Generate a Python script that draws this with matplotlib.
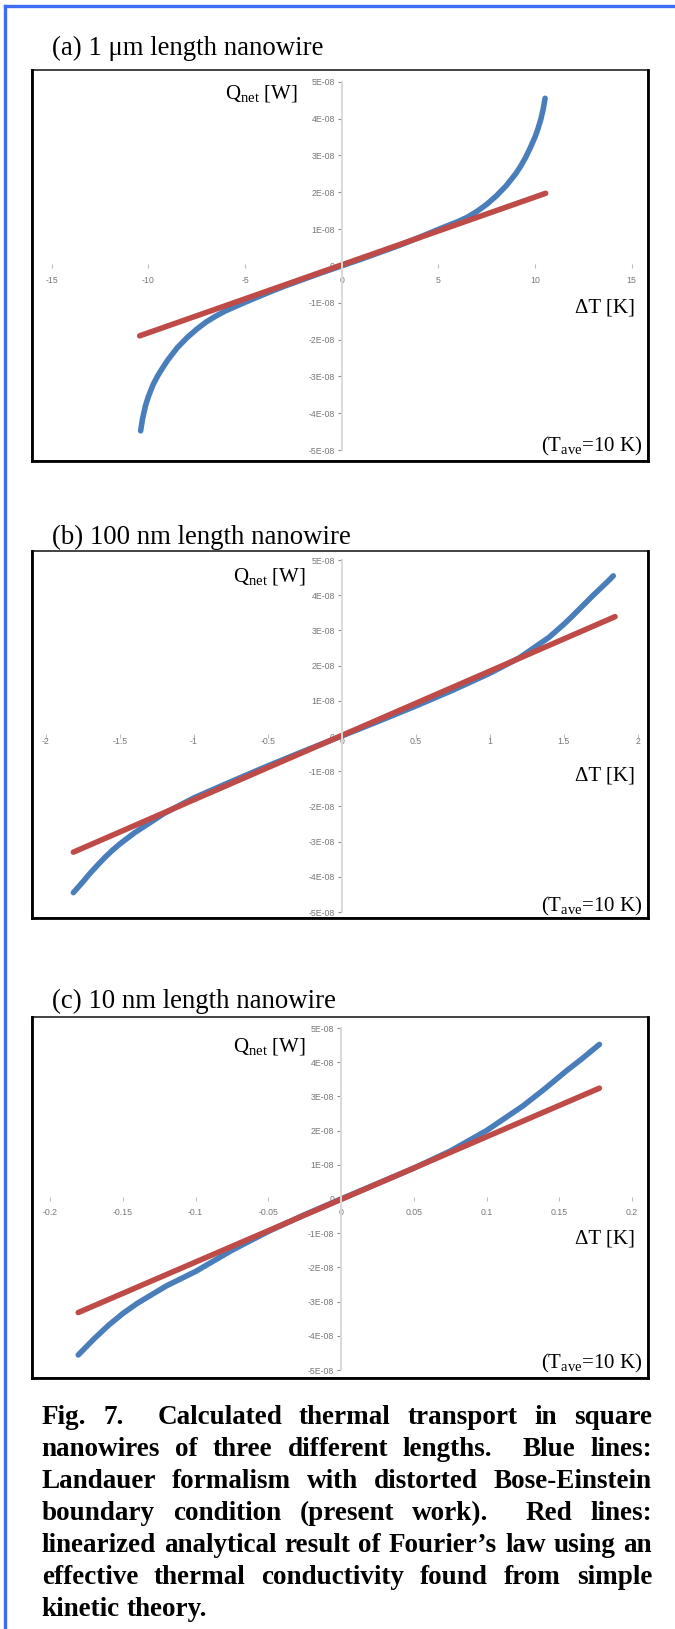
import matplotlib
matplotlib.use("Agg")
import matplotlib.pyplot as plt
from matplotlib.patches import Rectangle
from matplotlib.lines import Line2D

plt.rcParams['font.family'] = ['Liberation Serif', 'DejaVu Serif']
plt.rcParams['mathtext.fontset'] = 'custom'
plt.rcParams['mathtext.rm'] = 'Liberation Serif'
plt.rcParams['mathtext.it'] = 'Liberation Serif:italic'

# ---- data (Q in units of 1E-08 W) ----
# (a) 1 um
a_blue_x = [-10.4, -10.3, -10.15, -10.0, -9.75, -9.5, -9.25, -9.0, -8.5, -8.0, -7.5, -7.0, -6.5, -6.0,
            -5.0, -4.0, -3.0, -2.0, -1.0, 0.0,
            1.0, 2.0, 3.0, 4.0, 5.0, 6.0, 6.5, 7.0, 7.5, 8.0, 8.5, 9.0, 9.25, 9.5, 9.75,
            10.0, 10.15, 10.3, 10.42, 10.52]
a_blue_y = [-4.48, -4.15, -3.8, -3.55, -3.22, -2.97, -2.76, -2.56, -2.22, -1.95, -1.72, -1.52, -1.36, -1.22,
            -0.99, -0.77, -0.56, -0.37, -0.18, 0.0,
            0.18, 0.37, 0.56, 0.77, 0.99, 1.2, 1.32, 1.48, 1.67, 1.9, 2.17, 2.5, 2.7, 2.93, 3.2,
            3.5, 3.72, 3.98, 4.25, 4.55]
a_red_x = [-10.45, 10.55]
a_red_y = [-1.9, 1.97]

# (b) 100 nm
b_blue_x = [-1.813, -1.75, -1.7, -1.65, -1.6, -1.55, -1.5, -1.4, -1.2, -1.0, -0.75, -0.5, -0.25, 0.0,
            0.25, 0.5, 0.75, 1.0, 1.2, 1.4, 1.5, 1.55, 1.6, 1.65, 1.7, 1.75, 1.8, 1.835]
b_blue_y = [-4.45, -4.15, -3.9, -3.67, -3.45, -3.25, -3.07, -2.75, -2.2, -1.76, -1.3, -0.85, -0.42, 0.0,
            0.42, 0.85, 1.3, 1.78, 2.22, 2.8, 3.17, 3.37, 3.58, 3.79, 4.0, 4.2, 4.4, 4.55]
b_red_x = [-1.813, 1.847]
b_red_y = [-3.3, 3.39]

# (c) 10 nm
c_blue_x = [-0.1806, -0.17, -0.16, -0.15, -0.14, -0.12, -0.1, -0.075, -0.05, -0.025, 0.0,
            0.025, 0.05, 0.075, 0.1, 0.125, 0.14, 0.155, 0.165, 0.1776]
c_blue_y = [-4.56, -4.1, -3.7, -3.35, -3.05, -2.54, -2.12, -1.5, -0.95, -0.46, 0.0,
            0.45, 0.9, 1.4, 2.0, 2.72, 3.22, 3.75, 4.08, 4.52]
c_red_x = [-0.1806, 0.1776]
c_red_y = [-3.32, 3.24]

y_ticks = [-5, -4, -3, -2, -1, 0, 1, 2, 3, 4, 5]
y_labels = ['-5E-08', '-4E-08', '-3E-08', '-2E-08', '-1E-08', '0',
            '1E-08', '2E-08', '3E-08', '4E-08', '5E-08']
a_xticks = [-15, -10, -5, 0, 5, 10, 15]
a_xlabels = ['-15', '-10', '-5', '0', '5', '10', '15']
b_xticks = [-2, -1.5, -1, -0.5, 0, 0.5, 1, 1.5, 2]
b_xlabels = ['-2', '-1.5', '-1', '-0.5', '0', '0.5', '1', '1.5', '2']
c_xticks = [-0.2, -0.15, -0.1, -0.05, 0, 0.05, 0.1, 0.15, 0.2]
c_xlabels = ['-0.2', '-0.15', '-0.1', '-0.05', '0', '0.05', '0.1', '0.15', '0.2']

titles = ['(a) 1 \u03bcm length nanowire', '(b) 100 nm length nanowire', '(c) 10 nm length nanowire']

caption = ['Fig. 7.  Calculated thermal transport in square',
           'nanowires of three different lengths.  Blue lines:',
           'Landauer formalism with distorted Bose-Einstein',
           'boundary condition (present work).  Red lines:',
           'linearized analytical result of Fourier\u2019s law using an',
           'effective thermal conductivity found from simple',
           'kinetic theory.']

W, H = 675, 1629
fig = plt.figure(figsize=(W / 100, H / 100), dpi=100)

def fx(p):
    return p / W

def fy(p):
    return 1 - p / H

BLUE = '#4a7ebb'
RED = '#be4b48'

# page border (blue, top and left)
fig.add_artist(Line2D([fx(5.5), fx(W)], [fy(5.5), fy(5.5)], transform=fig.transFigure,
                      color='#3f6cf5', lw=2.4))
fig.add_artist(Line2D([fx(5.5), fx(5.5)], [fy(5.5), fy(H)], transform=fig.transFigure,
                      color='#3f6cf5', lw=2.4))


def panel(title, title_y, box, area, xlim, xticks, xlabels, xpad,
          bx, by, rx, ry, q_pos, dt_y, tave_y):
    # frame around the chart
    l, t, r, b = box
    fig.add_artist(Rectangle((fx(l), fy(b)), fx(r) - fx(l), fy(t) - fy(b),
                             transform=fig.transFigure, fill=False, ec='#222222', lw=1.2))
    for xs, ys in [([l, l], [t, b]), ([r, r], [t, b]), ([l, r], [b, b])]:
        fig.add_artist(Line2D([fx(v) for v in xs], [fy(v) for v in ys],
                              transform=fig.transFigure, color='black', lw=2.0))
    fig.text(fx(51.7), fy(title_y), title, fontsize=19.3, va='baseline', ha='left')

    x0, y0, x1, y1 = area
    ax = fig.add_axes([fx(x0), fy(y1), fx(x1) - fx(x0), fy(y0) - fy(y1)])
    ax.set_facecolor('none')
    ax.plot(bx, [v * 1e-8 for v in by], color=BLUE, lw=4.0, solid_capstyle='round',
            solid_joinstyle='round')
    ax.plot(rx, [v * 1e-8 for v in ry], color=RED, lw=4.0, solid_capstyle='round')
    ax.set_xlim(*xlim)
    ax.set_ylim(-5e-8, 5e-8)

    ax.spines['top'].set_visible(False)
    ax.spines['right'].set_visible(False)
    ax.spines['left'].set_position(('data', 0))
    ax.spines['left'].set_color('#d9d9d9')
    ax.spines['left'].set_linewidth(1.4)
    ax.spines['bottom'].set_position(('data', 0))
    ax.spines['bottom'].set_color('none')

    ax.set_yticks([v * 1e-8 for v in y_ticks])
    ax.set_yticklabels(y_labels)
    ax.set_xticks(xticks)
    ax.set_xticklabels(xlabels)
    ax.tick_params(axis='y', length=3, width=0.8, color='#8c8c8c', pad=2,
                   labelsize=6.3, labelcolor='#777777')
    ax.tick_params(axis='x', direction='inout', length=3, width=0.8, color='#bfbfbf',
                   pad=xpad, labelsize=6.3, labelcolor='#777777')
    for lab in ax.get_xticklabels() + ax.get_yticklabels():
        lab.set_fontfamily('Liberation Sans')
    ax.yaxis.get_offset_text().set_visible(False)

    fig.text(fx(q_pos[0]), fy(q_pos[1]), r'Q$_{\mathrm{net}}$ [W]', fontsize=15,
             ha='right', va='baseline')
    fig.text(fx(635), fy(dt_y), '\u0394T [K]', fontsize=15, ha='right', va='baseline')
    fig.text(fx(643), fy(tave_y), r'(T$_{\mathrm{ave}}$=10 K)', fontsize=15,
             ha='right', va='baseline')


panel(titles[0], 55, (32, 70, 648, 461), (51.7, 81.7, 631.7, 450), (-15, 15),
      a_xticks, a_xlabels, 5.8, a_blue_x, a_blue_y, a_red_x, a_red_y,
      (298, 98.3), 312, 451)
panel(titles[1], 543.5, (32, 551, 648, 918), (45.7, 560, 637.7, 912), (-2, 2),
      b_xticks, b_xlabels, -0.8, b_blue_x, b_blue_y, b_red_x, b_red_y,
      (306, 581.7), 781, 911)
panel(titles[2], 1008.5, (32, 1016.7, 648, 1378), (50, 1028, 632, 1370), (-0.2, 0.2),
      c_xticks, c_xlabels, 4.8, c_blue_x, c_blue_y, c_red_x, c_red_y,
      (306, 1051.7), 1243.5, 1368.5)

# caption, justified like the page
renderer = fig.canvas.get_renderer()
left, right = 41.7, 652
for i, line in enumerate(caption):
    y = 1424.0 + 32.0 * i
    words = line.split(' ')
    texts = [fig.text(0, fy(y), w, fontsize=19.5, fontweight='bold', va='baseline', ha='left')
             for w in words]
    widths = [t.get_window_extent(renderer).width if w else 0 for t, w in zip(texts, words)]
    if i == len(caption) - 1:
        gap = 6.5
    else:
        gap = (right - left - sum(widths)) / (len(words) - 1)
    x = left
    for t, wd in zip(texts, widths):
        t.set_x(fx(x))
        x += wd + gap

fig.savefig('out.png', dpi=100)
